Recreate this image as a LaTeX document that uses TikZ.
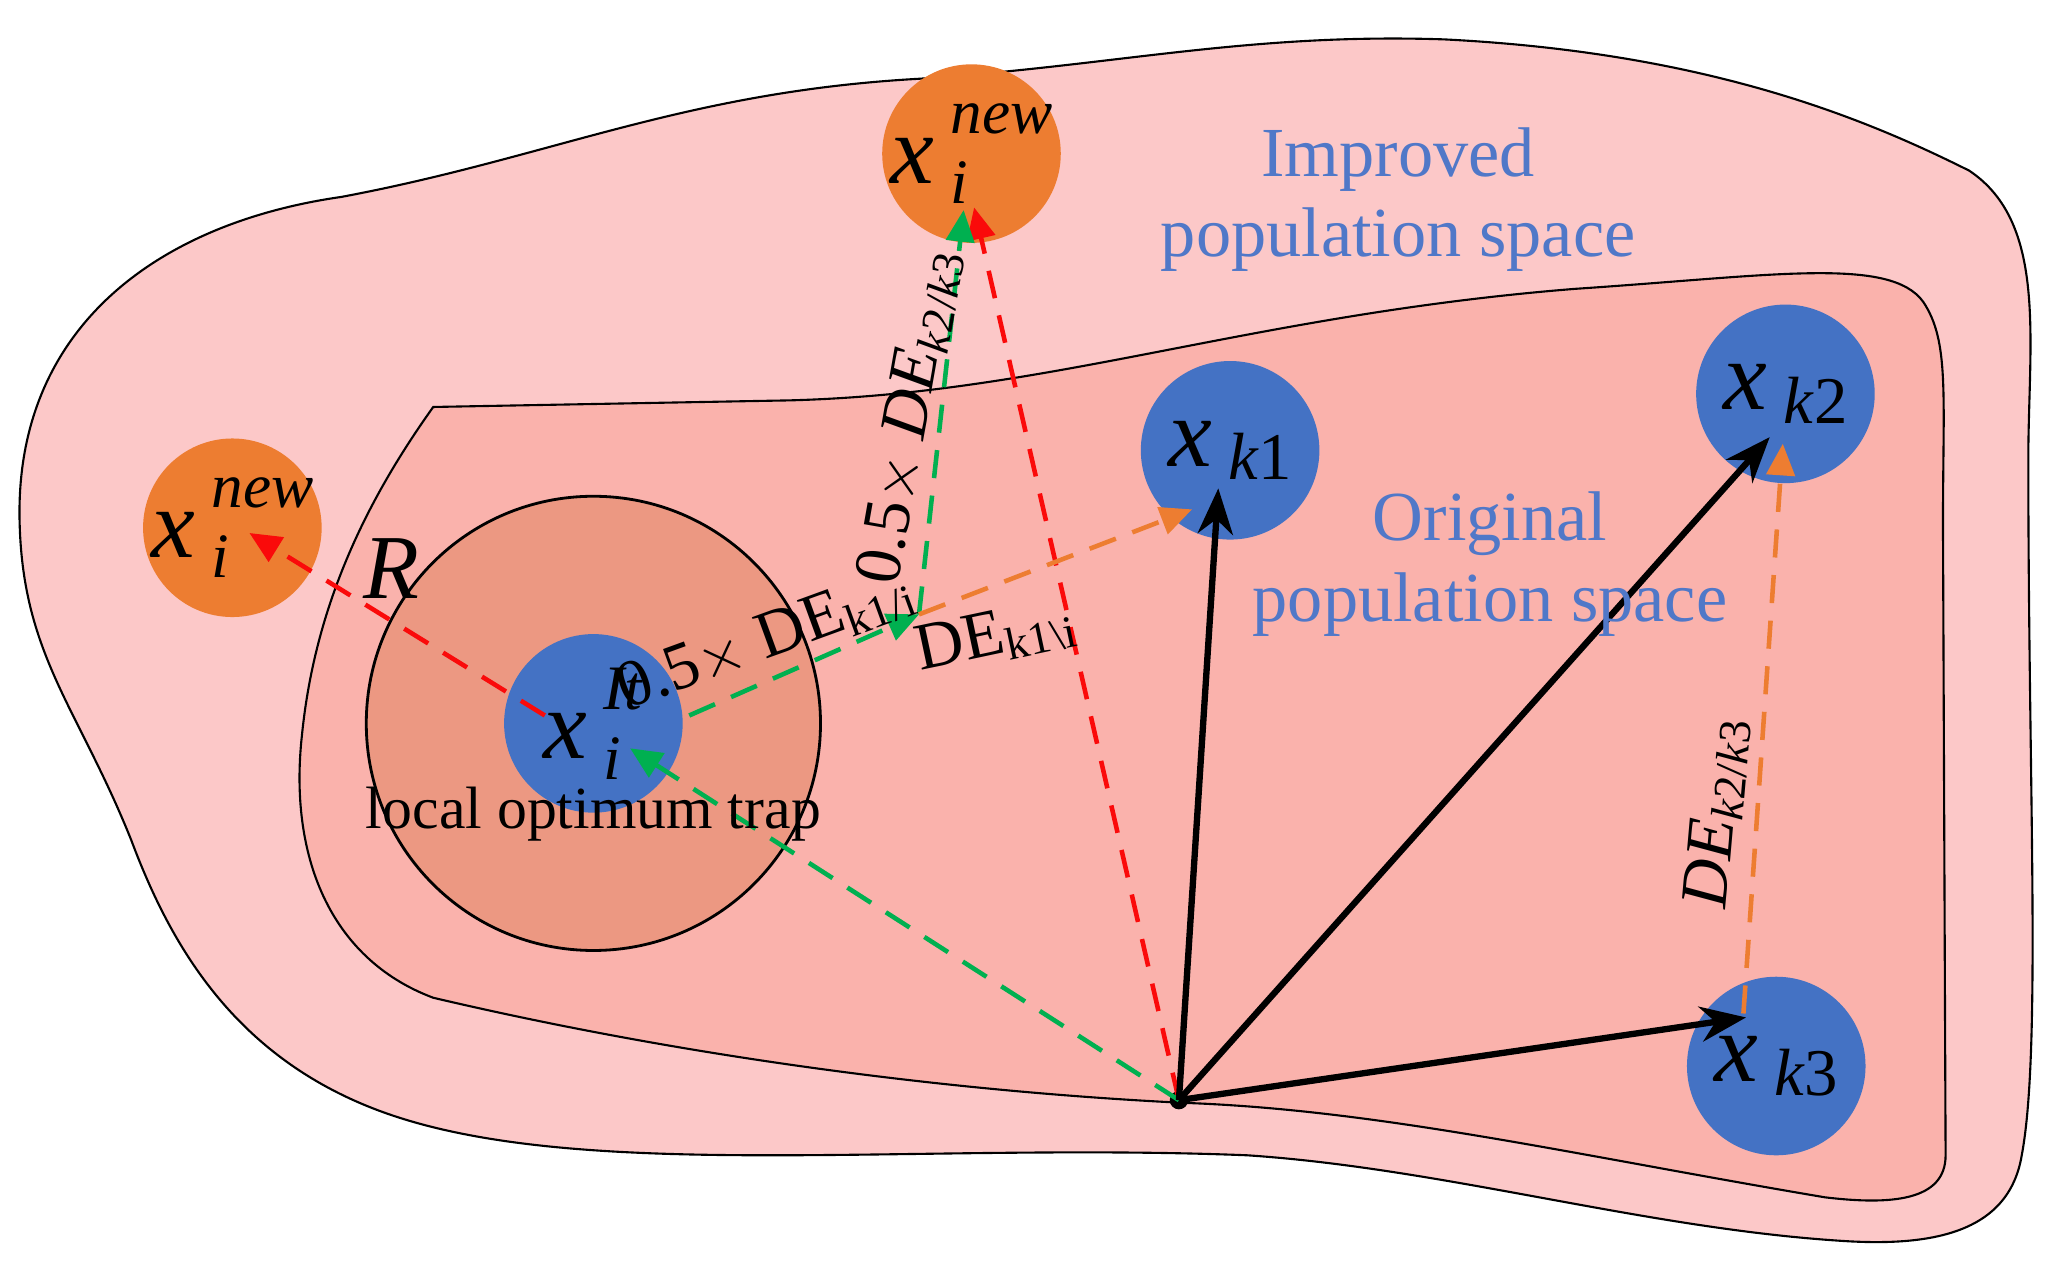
\documentclass[tikz,border=0pt]{standalone}
\usepackage{fontspec}
\setmainfont{Liberation Serif}
\usetikzlibrary{arrows.meta}
\definecolor{outerc}{RGB}{252,200,200}
\definecolor{innerc}{RGB}{250,178,172}
\definecolor{trapc}{RGB}{236,152,130}
\definecolor{bluec}{RGB}{68,114,196}
\definecolor{orc}{RGB}{237,125,49}
\definecolor{redc}{RGB}{250,10,10}
\definecolor{grc}{RGB}{0,176,80}
\definecolor{txtb}{RGB}{80,120,200}
\newcommand{\xlab}[2]{\textit{x}\,\rlap{\raisebox{-0.45ex}{\fontsize{18}{18}\selectfont\textit{#1}}}\raisebox{1.1ex}{\fontsize{18}{18}\selectfont\textit{#2}}}
\tikzset{
 bl/.style={circle,fill=bluec,minimum size=1.785cm,inner sep=0pt},
 or/.style={circle,fill=orc,minimum size=1.785cm,inner sep=0pt},
 dsh/.style={line width=1.3pt,dash pattern=on 8pt off 5pt},
 tip/.style={-{Triangle[length=9pt,width=8pt]}},
 blk/.style={line width=1.8pt,-{Stealth[length=13pt,width=10pt]}},
 lab/.style={font=\fontsize{19}{22}\selectfont},
 space/.style={text=txtb,font=\fontsize{20}{23}\selectfont,align=center},
 xl/.style={font=\fontsize{28}{28}\selectfont,inner sep=0pt}
}
\begin{document}
\begin{tikzpicture}[x=0.013128cm,y=-0.013128cm]
\useasboundingbox (0,0) rectangle (1560,964.4);
\draw[fill=outerc,line width=0.6pt] (15,400) .. controls (10,250) and (120,170) .. (260,150)
 .. controls (420,120) and (520,70) .. (700,60)
 .. controls (850,50) and (950,25) .. (1100,30)
 .. controls (1300,40) and (1420,90) .. (1500,130)
 .. controls (1560,170) and (1545,260) .. (1545,350)
 .. controls (1545,600) and (1555,800) .. (1540,880)
 .. controls (1530,940) and (1470,950) .. (1400,945)
 .. controls (1250,935) and (1100,890) .. (950,880)
 .. controls (700,870) and (450,900) .. (300,850)
 .. controls (180,810) and (130,720) .. (100,640)
 .. controls (60,540) and (18,500) .. (15,400) -- cycle;
\draw[fill=innerc,line width=0.6pt] (330,310) -- (600,305)
 .. controls (800,300) and (950,240) .. (1200,220)
 .. controls (1350,210) and (1440,195) .. (1465,230)
 .. controls (1485,260) and (1480,300) .. (1480,400)
 -- (1482,880) .. controls (1482,915) and (1440,918) .. (1390,912)
 .. controls (1200,880) and (1050,845) .. (900,840)
 .. controls (700,830) and (500,800) .. (330,760)
 .. controls (250,730) and (220,650) .. (230,560)
 .. controls (240,460) and (280,380) .. (330,310) -- cycle;
\draw[fill=trapc,line width=0.8pt] (452,551) circle (173);
\node[bl] (xi) at (452,551) {};
\node[or] (nl) at (177,402) {};
\node[or] (nt) at (740,117) {};
\node[bl] (k1) at (937,343) {};
\node[bl] (k2) at (1360,300) {};
\node[bl] (k3) at (1353,812) {};
\coordinate (o) at (898,838);
\coordinate (m) at (700,468);
\fill (o) circle (7);
\node[xl] at (xi) {\xlab{i}{It}};
\node[xl] at (nl) {\xlab{i}{new}};
\node[xl] at (nt) {\xlab{i}{new}};
\node[xl] at (k1) {\textit{x}\,\raisebox{-0.3ex}{\fontsize{19}{19}\selectfont\textit{k}1}};
\node[xl] at (k2) {\textit{x}\,\raisebox{-0.3ex}{\fontsize{19}{19}\selectfont\textit{k}2}};
\node[xl] at (k3) {\textit{x}\,\raisebox{-0.3ex}{\fontsize{19}{19}\selectfont\textit{k}3}};
\draw[dsh,redc,tip] (o) -- (742,158);
\draw[dsh,redc,tip] (415,545) -- (190,406);
\draw[dsh,grc,tip] (o) -- (480,570);
\draw[dsh,grc,tip] (525,545) -- (m);
\draw[dsh,grc,tip] (m) -- (734,160);
\draw[dsh,orc,tip] (m) -- (908,388);
\draw[dsh,orc,tip] (1328,772) -- (1358,338);
\draw[blk] (o) -- (928,372);
\draw[blk] (o) -- (1348,333);
\draw[blk] (o) -- (1330,775);
\node[font=\fontsize{26}{28}\selectfont\itshape] at (298,433) {R};
\node[lab,rotate=20] at (583,488) {0.5$\times$ DE\raisebox{-0.3ex}{\fontsize{13}{13}\selectfont k1/i}};
\node[lab,rotate=12] at (758,485) {DE\raisebox{-0.3ex}{\fontsize{13}{13}\selectfont k1\textbackslash i}};
\node[lab,rotate=80] at (693,318) {0.5$\times$ \textit{DE}\raisebox{-0.3ex}{\fontsize{13}{13}\selectfont\textit{k}2/\textit{k}3}};
\node[lab,rotate=85] at (1308,620) {\textit{DE}\raisebox{-0.3ex}{\fontsize{13}{13}\selectfont\textit{k}2/\textit{k}3}};
\node[font=\fontsize{17}{19}\selectfont] at (452,620) {local optimum trap};
\node[space] at (1065,152) {Improved\\population space};
\node[space] at (1135,430) {Original\\population space};
\end{tikzpicture}
\end{document}
